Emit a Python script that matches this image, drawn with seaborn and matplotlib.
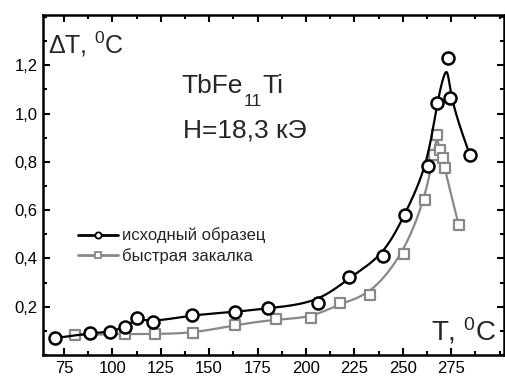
import numpy as np
import pandas as pd
import matplotlib
matplotlib.use("Agg")
import matplotlib.pyplot as plt
from matplotlib.lines import Line2D
from matplotlib.ticker import MultipleLocator, FuncFormatter
import seaborn as sns

# --- data ---
t_orig = [70.3, 88.4, 98.8, 106.5, 112.7, 121.0, 141.0, 163.5, 180.6, 206.4,
          222.5, 240.0, 251.0, 262.8, 267.5, 273.2, 274.2, 284.6]
dt_orig = [0.070, 0.090, 0.095, 0.116, 0.153, 0.136, 0.166, 0.178, 0.194, 0.216,
           0.322, 0.410, 0.580, 0.783, 1.043, 1.230, 1.066, 0.830]

t_quench = [80.7, 106.5, 122.0, 141.5, 163.5, 184.7, 202.8, 217.8, 233.3, 250.4,
            261.3, 266.0, 267.5, 269.1, 270.6, 271.6, 278.9]
dt_quench = [0.083, 0.087, 0.087, 0.090, 0.124, 0.149, 0.153, 0.215, 0.248, 0.418,
             0.642, 0.830, 0.913, 0.850, 0.815, 0.773, 0.538]

label_orig = "исходный образец"
label_quench = "быстрая закалка"
x_ticks = [75, 100, 125, 150, 175, 200, 225, 250, 275]
y_ticks = [0.2, 0.4, 0.6, 0.8, 1.0, 1.2]


def bspline(xs, ys, n=60):
    """Uniform cubic B-spline using the data points as control points (clamped)."""
    P = np.column_stack([xs, ys]).astype(float)
    P = np.vstack([P[0], P[0], P, P[-1], P[-1]])
    t = np.linspace(0, 1, n, endpoint=False)
    b0 = (1 - t) ** 3 / 6
    b1 = (3 * t ** 3 - 6 * t ** 2 + 4) / 6
    b2 = (-3 * t ** 3 + 3 * t ** 2 + 3 * t + 1) / 6
    b3 = t ** 3 / 6
    out = []
    for i in range(len(P) - 3):
        seg = (b0[:, None] * P[i] + b1[:, None] * P[i + 1]
               + b2[:, None] * P[i + 2] + b3[:, None] * P[i + 3])
        out.append(seg)
    out.append(P[-1][None, :])
    c = np.vstack(out)
    return c[:, 0], c[:, 1]


sns.set_style("ticks")
plt.rcParams["font.family"] = ["Liberation Sans", "DejaVu Sans"]
plt.rcParams["mathtext.fontset"] = "custom"
plt.rcParams["mathtext.rm"] = "Liberation Sans"
plt.rcParams["mathtext.it"] = "Liberation Sans:italic"
plt.rcParams["mathtext.bf"] = "Liberation Sans:bold"

fig = plt.figure(figsize=(5.05, 3.79), dpi=100)
ax = fig.add_axes([43 / 505, 24 / 379, 461 / 505, 340 / 379])

gray = "#888888"

bx, by = bspline(t_orig, dt_orig)
qx, qy = bspline(t_quench, dt_quench)
df_c1 = pd.DataFrame({"T": bx, "dT": by})
df_c2 = pd.DataFrame({"T": qx, "dT": qy})
df_p1 = pd.DataFrame({"T": t_orig, "dT": dt_orig})
df_p2 = pd.DataFrame({"T": t_quench, "dT": dt_quench})

sns.lineplot(data=df_c2, x="T", y="dT", sort=False, color=gray, lw=1.6, ax=ax, zorder=2)
sns.scatterplot(data=df_p2, x="T", y="dT", marker="s", s=55, facecolor="white",
                edgecolor=gray, linewidth=1.6, ax=ax, zorder=3)
sns.lineplot(data=df_c1, x="T", y="dT", sort=False, color="black", lw=1.6, ax=ax, zorder=4)
sns.scatterplot(data=df_p1, x="T", y="dT", marker="o", s=75, facecolor="white",
                edgecolor="black", linewidth=1.8, ax=ax, zorder=5)

ax.set_xlim(64.2, 302.3)
ax.set_ylim(0, 1.408)
ax.set_xlabel("")
ax.set_ylabel("")

ax.set_xticks(x_ticks)
ax.set_yticks(y_ticks)
ax.xaxis.set_minor_locator(MultipleLocator(12.5))
ax.yaxis.set_minor_locator(MultipleLocator(0.1))
ax.yaxis.set_major_formatter(FuncFormatter(lambda v, p: f"{v:.1f}".replace(".", ",")))
ax.tick_params(which="both", direction="in", top=True, right=True, width=1.5,
               labelsize=12, colors="black", pad=4)
ax.tick_params(which="major", length=5)
ax.tick_params(which="minor", length=3)
for s in ax.spines.values():
    s.set_linewidth(1.8)
    s.set_color("black")
    s.set_visible(True)

ax.text(0.011, 0.888, r"ΔT, $^\mathregular{0}$C", transform=ax.transAxes,
        fontsize=18, va="baseline", ha="left")
ax.text(0.303, 0.641, "H=18,3 кЭ", transform=ax.transAxes,
        fontsize=19, va="baseline", ha="left")
ax.text(0.983, 0.044, r"T, $^\mathregular{0}$C", transform=ax.transAxes,
        fontsize=20, va="baseline", ha="right")

# TbFe11Ti with a deep subscript, built from three text pieces
fig.canvas.draw()
renderer = fig.canvas.get_renderer()
t1 = ax.text(0.301, 0.771, "TbFe", transform=ax.transAxes, fontsize=19,
             va="baseline", ha="left")
bb = t1.get_window_extent(renderer)
inv = ax.transAxes.inverted()
x1 = inv.transform((bb.x1 + 0.5, 0))[0]
t2 = ax.text(x1, 0.771 - 13 / 340, "11", transform=ax.transAxes, fontsize=12.5,
             va="baseline", ha="left")
bb2 = t2.get_window_extent(renderer)
x2 = inv.transform((bb2.x1 + 0.5, 0))[0]
ax.text(x2, 0.771, "Ti", transform=ax.transAxes, fontsize=19,
        va="baseline", ha="left")

handles = [
    Line2D([], [], color="black", lw=2, marker="o", markersize=4.5,
           markerfacecolor="white", markeredgecolor="black", markeredgewidth=1.3),
    Line2D([], [], color=gray, lw=2, marker="s", markersize=4.5,
           markerfacecolor="white", markeredgecolor=gray, markeredgewidth=1.3),
]
ax.legend(handles, [label_orig, label_quench], loc="upper left",
          bbox_to_anchor=(0.075, 0.375), frameon=False, fontsize=12,
          handlelength=2.4, handletextpad=0.25, labelspacing=0.3,
          borderpad=0, borderaxespad=0)

fig.savefig("out.png", dpi=100)
